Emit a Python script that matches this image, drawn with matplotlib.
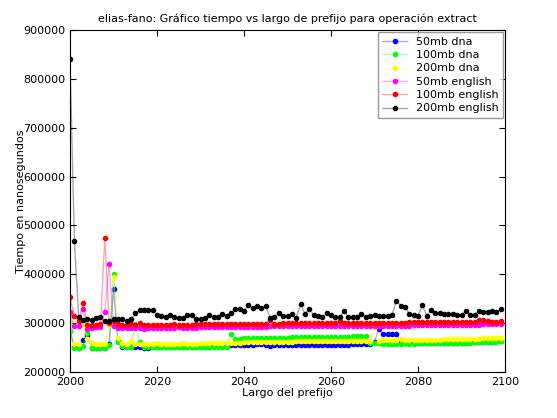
import numpy as np
import matplotlib
matplotlib.use('Agg')
import matplotlib.pyplot as plt

# largo de prefijo 2000..2099
prefijos = list(range(2000, 2100))

dna_50 = [
    285000, 251000, 250000, 265000, 276000, 250000, 250000, 250000, 250000, 258000,
    370000, 266000, 251000, 251000, 251000, 252000, 251000, 250000, 250000, 251000,
    251000, 252000, 251000, 251000, 251000, 252000, 251000, 252000, 251000, 252000,
    252000, 252000, 252000, 253000, 253000, 254000, 255000, 255000, 255000, 256000,
    255000, 256000, 255000, 257000, 258000, 256000, 254000, 256000, 256000, 256000,
    256000, 256000, 256000, 256000, 256000, 256000, 256000, 256000, 256000, 256000,
    256000, 256000, 256000, 256000, 256000, 257000, 257000, 257000, 257000, 257000,
    262000, 288000, 277000, 277000, 277000, 277000, 264000, 260000, 260000, 260000,
    260000, 260000, 260000, 260000, 260000, 260000, 260000, 260000, 260000, 260000,
    260000, 260000, 261000, 261000, 261000, 262000, 262000, 262000, 264000, 263000,
]

dna_100 = [
    283000, 250000, 250000, 254000, 279000, 250000, 250000, 250000, 250000, 256000,
    400000, 262000, 253000, 252000, 252000, 299000, 262000, 252000, 252000, 252000,
    252000, 251000, 252000, 252000, 252000, 252000, 252000, 251000, 252000, 252000,
    252000, 251000, 252000, 252000, 252000, 252000, 252000, 278000, 268000, 268000,
    269000, 269000, 269000, 270000, 270000, 270000, 270000, 270000, 270000, 270000,
    270000, 271000, 271000, 271000, 271000, 271000, 271000, 272000, 272000, 272000,
    272000, 272000, 272000, 272000, 272000, 273000, 273000, 273000, 273000, 259000,
    259000, 259000, 258000, 257000, 258000, 257000, 258000, 259000, 258000, 258000,
    259000, 259000, 259000, 259000, 259000, 259000, 259000, 259000, 260000, 260000,
    260000, 260000, 260000, 261000, 261000, 261000, 262000, 262000, 262000, 263000,
]

dna_200 = [
    304000, 258000, 257000, 297000, 268000, 259000, 258000, 258000, 258000, 297000,
    395000, 269000, 259000, 258000, 263000, 258000, 258000, 258000, 258000, 258000,
    259000, 258000, 258000, 258000, 258000, 258000, 259000, 258000, 258000, 258000,
    259000, 259000, 259000, 259000, 259000, 259000, 259000, 259000, 260000, 260000,
    261000, 261000, 261000, 262000, 262000, 262000, 262000, 262000, 262000, 262000,
    262000, 262000, 263000, 263000, 263000, 263000, 263000, 263000, 263000, 263000,
    263000, 263000, 263000, 263000, 263000, 263000, 263000, 263000, 263000, 264000,
    292000, 264000, 265000, 265000, 265000, 265000, 267000, 265000, 265000, 265000,
    266000, 265000, 265000, 266000, 266000, 266000, 267000, 267000, 267000, 267000,
    268000, 267000, 268000, 268000, 268000, 270000, 270000, 270000, 269000, 269000,
]

eng_50 = [
    322000, 295000, 294000, 330000, 288000, 291000, 292000, 292000, 323000, 422000,
    294000, 291000, 291000, 291000, 291000, 291000, 290000, 289000, 291000, 291000,
    291000, 291000, 291000, 291000, 291000, 292000, 291000, 291000, 291000, 291000,
    292000, 292000, 292000, 292000, 292000, 293000, 293000, 293000, 293000, 293000,
    293000, 293000, 293000, 293000, 293000, 293000, 294000, 294000, 294000, 294000,
    294000, 294000, 294000, 294000, 294000, 294000, 294000, 294000, 294000, 294000,
    294000, 294000, 294000, 294000, 294000, 295000, 295000, 295000, 295000, 295000,
    295000, 295000, 295000, 295000, 295000, 295000, 295000, 295000, 295000, 296000,
    296000, 296000, 296000, 296000, 296000, 296000, 296000, 297000, 297000, 297000,
    297000, 297000, 297000, 297000, 297000, 298000, 298000, 298000, 298000, 298000,
]

eng_100 = [
    353000, 314000, 305000, 342000, 297000, 296000, 297000, 299000, 475000, 300000,
    304000, 298000, 297000, 297000, 298000, 297000, 300000, 297000, 297000, 297000,
    297000, 297000, 297000, 297000, 298000, 297000, 297000, 297000, 297000, 298000,
    298000, 298000, 298000, 298000, 299000, 299000, 299000, 299000, 299000, 299000,
    299000, 299000, 299000, 299000, 299000, 299000, 307000, 299000, 299000, 300000,
    300000, 300000, 300000, 300000, 300000, 300000, 300000, 300000, 300000, 300000,
    300000, 300000, 304000, 300000, 300000, 300000, 300000, 300000, 300000, 300000,
    300000, 301000, 301000, 301000, 301000, 301000, 301000, 301000, 302000, 302000,
    302000, 302000, 302000, 302000, 302000, 302000, 302000, 302000, 302000, 302000,
    302000, 302000, 302000, 303000, 306000, 306000, 305000, 302000, 302000, 305000,
]

eng_200 = [
    840000, 469000, 312000, 307000, 308000, 306000, 311000, 312000, 305000, 304000,
    309000, 309000, 309000, 305000, 308000, 320000, 326000, 326000, 326000, 326000,
    317000, 314000, 313000, 316000, 313000, 311000, 311000, 316000, 316000, 309000,
    309000, 311000, 316000, 313000, 312000, 318000, 314000, 321000, 328000, 328000,
    325000, 338000, 331000, 336000, 332000, 335000, 311000, 312000, 320000, 315000,
    315000, 318000, 311000, 339000, 319000, 330000, 317000, 315000, 312000, 320000,
    317000, 313000, 312000, 325000, 313000, 313000, 313000, 319000, 313000, 315000,
    317000, 315000, 315000, 315000, 316000, 346000, 336000, 334000, 319000, 316000,
    315000, 337000, 315000, 327000, 320000, 321000, 319000, 319000, 318000, 316000,
    316000, 325000, 317000, 317000, 325000, 323000, 323000, 324000, 323000, 328000,
]

series = [
    ('50mb dna', dna_50, (0, 0, 1)),
    ('100mb dna', dna_100, (0, 1, 0)),
    ('200mb dna', dna_200, (1, 1, 0)),
    ('50mb english', eng_50, (1, 0, 1)),
    ('100mb english', eng_100, (1, 0, 0)),
    ('200mb english', eng_200, (0, 0, 0)),
]

fig = plt.figure(figsize=(5.57, 4.18), dpi=100)
ax = fig.add_axes([0.1257, 0.110, 0.781, 0.818])

for nombre, valores, c in series:
    ax.plot(prefijos, valores, '-o', color=c + (0.35,), lw=1,
            markersize=3, markerfacecolor=c, markeredgecolor=c,
            label=nombre)

ax.set_xlim(2000, 2100)
ax.set_ylim(200000, 900000)
ax.set_xticks([2000, 2020, 2040, 2060, 2080, 2100])
ax.set_yticks(np.arange(200000, 900001, 100000))
ax.ticklabel_format(useOffset=False, style='plain')
ax.tick_params(direction='in', top=True, right=True, labelsize=8, length=4)

ax.set_title('elias-fano: Gráfico tiempo vs largo de prefijo para operación extract',
             fontsize=8)
ax.set_xlabel('Largo del prefijo', fontsize=8, labelpad=1)
ax.set_ylabel('Tiempo en nanosegundos', fontsize=8, labelpad=-2)

leg = ax.legend(loc='upper right', fontsize=8, fancybox=False,
                handlelength=2.2, borderaxespad=0.2, labelspacing=0.3)
leg.get_frame().set_edgecolor('gray')

fig.savefig('out.png', dpi=100)
